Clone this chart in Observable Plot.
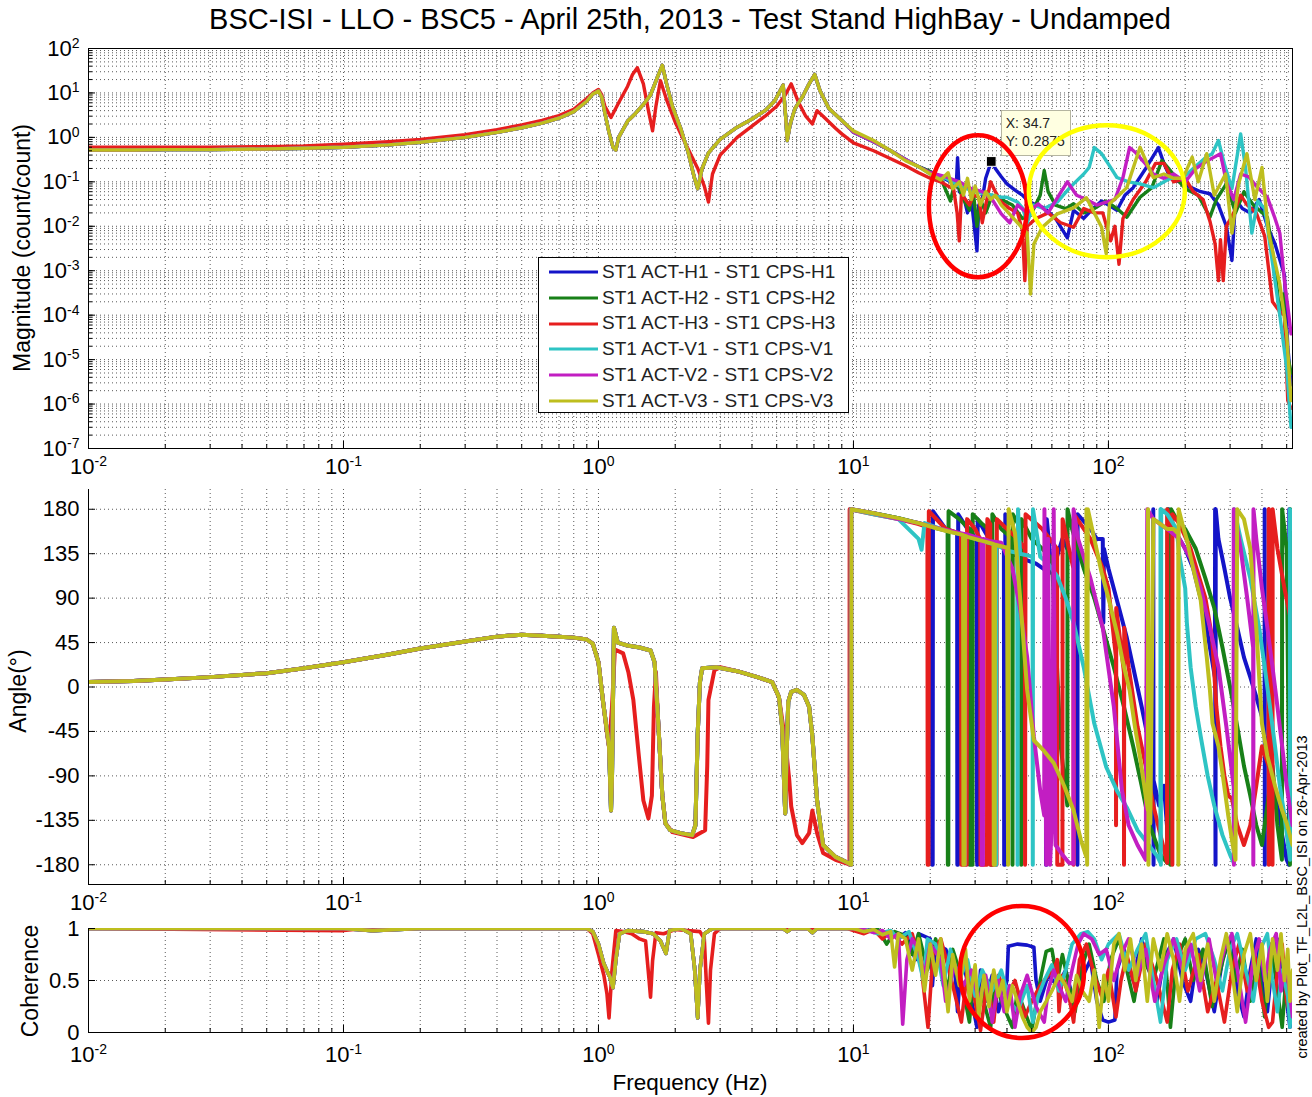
<!DOCTYPE html>
<html>
<head>
<meta charset="utf-8">
<script src="https://cdn.jsdelivr.net/npm/d3@7"></script>
<script src="https://cdn.jsdelivr.net/npm/@observablehq/plot@0.6"></script>
<style>
  body { margin: 0; background: #fff; font-family: "Liberation Sans", Arial, Helvetica, sans-serif; }
  #root { position: relative; width: 1312px; height: 1097px; overflow: hidden; background: #fff; }
  .abs { position: absolute; }
  .panel svg { display: block; }
  .title { font-size: 29px; color: #000; white-space: nowrap; transform: translate(-50%, -50%); }
  .ylab { font-size: 23px; color: #000; white-space: nowrap; transform: translate(-50%, -50%) rotate(-90deg); }
  .xlab { font-size: 22.5px; color: #000; white-space: nowrap; transform: translate(-50%, -50%); }
  .side { font-size: 14.5px; color: #000; white-space: nowrap; transform: translate(-50%, -50%) rotate(-90deg); }
  .legend { background: #fff; border: 1px solid #000; box-sizing: border-box; padding-top: 1px; }
  .legend .row { position: relative; height: 25.8px; }
  .legend svg { position: absolute; left: 9px; top: 0; }
  .legend span { position: absolute; left: 63px; top: 50%; transform: translateY(-50%); font-size: 19px; color: #222; white-space: nowrap; }
  .tip { background: #ffffe1; border: 1px solid #b5b5a0; box-sizing: border-box; font-size: 14px; line-height: 18px; padding: 3px 4px; color: #222; white-space: nowrap; overflow: hidden; }
</style>
</head>
<body>
<div id="root"></div>
<script>
// ---------------- DATA ----------------
const titleText = "BSC-ISI - LLO - BSC5 - April 25th, 2013 - Test Stand HighBay - Undamped";
const seriesNames = [
  "ST1 ACT-H1 - ST1 CPS-H1", "ST1 ACT-H2 - ST1 CPS-H2", "ST1 ACT-H3 - ST1 CPS-H3",
  "ST1 ACT-V1 - ST1 CPS-V1", "ST1 ACT-V2 - ST1 CPS-V2", "ST1 ACT-V3 - ST1 CPS-V3"
];
const seriesColors = ["#1414c8", "#188018", "#e61e1e", "#2ec4c4", "#c21ec2", "#bebe1e"];

const xDecades = [0.01, 0.1, 1, 10, 100];
const magDecades = [1e-7, 1e-6, 1e-5, 1e-4, 1e-3, 1e-2, 1e-1, 1, 10, 100];
const angleTicks = [-180, -135, -90, -45, 0, 45, 90, 135, 180];
const cohTicks = [0, 0.5, 1];

// Magnitude (count/count): [frequency Hz, magnitude]
const magLowHV = [[0.01,0.52],[0.015,0.52],[0.02,0.53],[0.03,0.53],[0.05,0.55],[0.07,0.57],[0.1,0.6],[0.15,0.68],[0.2,0.78],[0.3,1.0],[0.4,1.3],[0.5,1.65],[0.6,2.1],[0.7,2.7],[0.8,3.8],[0.9,6.5],[0.95,9.5],[1.0,11],[1.03,8],[1.06,3.5],[1.1,1.3],[1.14,0.6],[1.17,0.52],[1.2,1.0],[1.3,2.3],[1.4,3.5],[1.5,5.5],[1.6,9],[1.7,22],[1.78,42],[1.85,16],[1.95,5],[2.1,1.6],[2.25,0.45],[2.38,0.12],[2.45,0.07],[2.55,0.2],[2.7,0.45],[3.0,0.9],[3.5,1.7],[4.0,2.6],[4.5,4],[4.9,6.5],[5.15,11],[5.3,15],[5.42,3],[5.5,0.85],[5.65,2],[5.9,4.5],[6.3,8],[6.7,16],[7.05,26],[7.4,11],[8.0,4.5],[9.0,2.4]];
const magLowH3 = [[0.01,0.6],[0.02,0.6],[0.03,0.6],[0.05,0.62],[0.07,0.64],[0.1,0.7],[0.15,0.8],[0.2,0.9],[0.3,1.15],[0.4,1.5],[0.5,1.9],[0.6,2.4],[0.7,3.1],[0.8,4.3],[0.9,7.5],[0.95,10],[1.0,12],[1.03,9],[1.06,5],[1.12,2.8],[1.2,6],[1.3,14],[1.36,26],[1.42,37],[1.5,16],[1.57,4],[1.63,1.4],[1.68,5],[1.75,19],[1.85,7],[2.0,2.2],[2.2,0.7],[2.45,0.2],[2.6,0.08],[2.7,0.035],[2.8,0.15],[3.0,0.4],[3.5,1.0],[4.0,1.8],[4.5,3],[5.0,5],[5.4,9],[5.7,16],[6.1,6],[6.5,3],[6.9,2],[7.2,4],[7.6,3],[8.5,1.6],[9.0,1.2]];
const magHiH1 = [[10,1.3],[12,0.8],[14,0.5],[16,0.32],[18,0.22],[20,0.17],[22,0.13],[24,0.1],[25.3,0.08],[25.6,0.35],[26,0.06],[27,0.05],[28,0.02],[29,0.04],[30.5,0.0028],[31,0.03],[32,0.04],[33,0.12],[34.7,0.2875],[36,0.2],[38,0.13],[40,0.09],[43,0.065],[46,0.05],[48.5,0.037],[52,0.03],[56,0.026],[62,0.015],[69,0.0055],[73,0.023],[80,0.015],[87,0.025],[94,0.037],[100,0.03],[108,0.023],[116,0.05],[125,0.074],[140,0.2],[157,0.59],[165,0.26],[175,0.12],[190,0.1],[205,0.08],[230,0.06],[250,0.054],[270,0.03],[290,0.01],[305,0.0017],[315,0.04],[335,0.025],[360,0.02],[390,0.04],[420,0.01],[450,0.004],[490,0.0008],[505,2e-5],[520,2.7e-6]];
const magHiH2 = [[10,1.3],[12,0.8],[14,0.5],[16,0.32],[18,0.22],[20,0.17],[22,0.12],[24,0.037],[25,0.1],[26,0.07],[27,0.04],[28.5,0.023],[29.5,0.06],[30.5,0.01],[31.5,0.04],[33,0.02],[35,0.05],[38,0.04],[42,0.03],[46,0.015],[50,0.02],[54,0.05],[56,0.18],[58,0.06],[62,0.03],[68,0.025],[73,0.032],[80,0.02],[88,0.025],[98,0.037],[108,0.025],[118,0.016],[133,0.045],[148,0.074],[162,0.3],[172,0.2],[185,0.12],[200,0.07],[225,0.05],[250,0.016],[265,0.04],[290,0.09],[315,0.02],[340,0.06],[370,0.03],[420,0.016],[450,0.0011],[470,0.0001],[485,0.0003],[500,1.6e-5],[520,5e-6]];
const magHiH3 = [[10,0.75],[12,0.5],[14,0.33],[16,0.23],[18,0.16],[20,0.12],[22,0.1],[23.5,0.08],[24.7,0.07],[25.5,0.02],[26,0.0047],[26.5,0.05],[27.5,0.04],[28.5,0.03],[29.5,0.05],[31,0.045],[32,0.012],[33,0.03],[34.5,0.1],[36,0.06],[38,0.035],[41,0.025],[44,0.02],[46,0.008],[47,0.0006],[48,0.01],[52,0.015],[58,0.02],[65,0.012],[73,0.0095],[80,0.025],[88,0.02],[95,0.02],[102,0.0047],[106,0.01],[110,0.0014],[114,0.015],[125,0.04],[140,0.1],[153,0.26],[165,0.26],[180,0.1],[200,0.12],[215,0.06],[235,0.04],[250,0.013],[262,0.004],[270,0.0006],[275,0.005],[282,0.0006],[290,0.01],[310,0.02],[330,0.05],[350,0.03],[380,0.02],[410,0.006],[440,0.0002],[470,0.00012],[490,0.0001],[505,1.2e-6],[520,8e-7]];
const magHiV1 = [[10,1.3],[12,0.8],[14,0.5],[16,0.32],[18,0.22],[20,0.15],[23,0.12],[26,0.08],[30,0.06],[35,0.05],[38,0.045],[40,0.045],[44,0.035],[46,0.026],[48,0.012],[51,0.03],[56,0.025],[63,0.035],[70,0.07],[73,0.09],[80,0.15],[84,0.21],[88,0.59],[94,0.43],[100,0.25],[108,0.125],[120,0.1],[133,0.09],[150,0.074],[175,0.12],[195,0.12],[215,0.2],[240,0.35],[255,0.43],[270,0.85],[285,0.25],[305,0.07],[330,1.2],[345,0.2],[365,0.007],[385,0.037],[410,0.025],[440,0.0015],[470,0.0001],[500,6.5e-6],[520,3e-7]];
const magHiV2 = [[10,1.3],[12,0.8],[14,0.5],[16,0.32],[18,0.22],[20,0.16],[23,0.13],[26,0.1],[29,0.07],[32,0.06],[35,0.04],[38,0.019],[41,0.012],[44,0.03],[48,0.02],[53,0.032],[58,0.02],[64,0.05],[69,0.1],[75,0.05],[82,0.04],[90,0.03],[98,0.035],[106,0.04],[114,0.125],[121,0.59],[128,0.45],[140,0.25],[150,0.15],[165,0.12],[180,0.15],[200,0.1],[220,0.2],[245,0.3],[275,0.43],[290,0.1],[310,0.04],[330,0.15],[355,0.13],[380,0.08],[420,0.045],[450,0.015],[470,0.007],[490,0.0006],[510,0.0001],[520,3.8e-5]];
const magHiV3 = [[10,1.4],[12,0.85],[14,0.5],[16,0.3],[18,0.22],[20,0.15],[22,0.11],[23.5,0.16],[24.5,0.07],[26,0.1],[27,0.05],[28,0.12],[29,0.04],[30,0.08],[31.5,0.03],[33,0.06],[34.5,0.04],[36,0.05],[38,0.03],[40,0.022],[44,0.012],[48,0.007],[49.5,0.0003],[51,0.004],[55,0.0095],[63,0.019],[73,0.026],[82,0.044],[88,0.02],[94,0.0095],[98,0.0024],[101,0.032],[110,0.05],[118,0.074],[133,0.6],[142,0.25],[150,0.125],[165,0.15],[180,0.12],[196,0.12],[213,0.36],[225,0.1],[243,0.43],[260,0.05],[288,0.15],[305,0.007],[324,0.09],[349,0.43],[375,0.04],[400,0.21],[425,0.007],[470,0.0005],[500,3.8e-5],[520,1.2e-6]];

// Angle (degrees): [frequency Hz, angle]
const angLowHV = [[0.01,5],[0.015,6],[0.02,7.5],[0.03,10],[0.05,14],[0.07,19],[0.1,25],[0.15,33],[0.2,39],[0.3,46],[0.4,51],[0.5,53],[0.6,52],[0.7,51],[0.8,50],[0.9,48],[0.95,44],[1.0,25],[1.04,-13],[1.08,-45],[1.1,-60],[1.12,-125],[1.13,-90],[1.15,60],[1.19,45],[1.3,42],[1.45,40],[1.6,37],[1.66,25],[1.71,-30],[1.78,-110],[1.83,-138],[1.91,-145],[2.1,-148],[2.33,-150],[2.4,-140],[2.45,-47],[2.5,5],[2.55,19],[2.9,20],[3.5,16],[4.2,10],[4.8,5],[5.1,-10],[5.25,-40],[5.35,-100],[5.4,-128],[5.45,-80],[5.55,-15],[5.7,-5],[6.0,-3],[6.4,-8],[6.7,-20],[6.9,-50],[7.2,-115],[7.6,-160],[8.5,-172],[9.5,-178]];
const angLowH3 = [[0.01,5],[0.015,6],[0.02,7.5],[0.03,10],[0.05,14],[0.07,19],[0.1,25],[0.15,33],[0.2,39],[0.3,46],[0.4,51],[0.5,53],[0.6,52],[0.7,51],[0.8,50],[0.9,48],[0.95,44],[1.0,25],[1.04,-13],[1.08,-47],[1.1,-61],[1.13,-20],[1.16,38],[1.25,34],[1.31,15],[1.37,-13],[1.44,-70],[1.5,-115],[1.57,-133],[1.62,-110],[1.65,-20],[1.68,15],[1.71,-30],[1.78,-110],[1.83,-138],[1.95,-147],[2.35,-152],[2.62,-145],[2.67,-80],[2.7,-13],[2.85,17],[3.0,20],[3.5,16],[4.2,10],[4.8,5],[5.1,-10],[5.3,-40],[5.45,-64],[5.6,-94],[5.7,-121],[6.0,-150],[6.3,-158],[6.7,-148],[6.9,-125],[7.2,-148],[7.6,-168],[8.5,-175],[9.5,-179]];
const angHiH1 = [[9.8,-180],[9.81,180],[12,176],[15,171],[18,166],[20.3,163],[20.35,-180],[20.45,-180],[20.5,178],[23,160],[25.5,156],[25.55,-180],[25.7,-180],[25.75,175],[28,160],[30.4,150],[30.5,-175],[30.6,-180],[30.7,170],[34,150],[38,142],[38.9,140],[39,-180],[39.3,-180],[39.4,175],[42,135],[46,130],[52,125],[56.8,118],[56.9,-180],[57.2,-180],[57.3,170],[60,115],[66,150],[72,130],[75.4,120],[75.5,-170],[75.6,-180],[75.7,175],[85,160],[90,150],[95,150],[95.5,65],[96,140],[100,120],[110,80],[118,50],[125,20],[135,-20],[145,-60],[149.8,-90],[149.9,180],[150.3,-180],[150.4,-95],[152,-100],[158,-120],[165,-100],[172,-160],[172.5,180],[180,160],[190,150],[200,140],[215,120],[235,80],[250,40],[261.5,10],[262,180],[262.5,-100],[263,-180],[263.5,180],[270,150],[285,120],[300,90],[320,60],[340,30],[360,10],[380,-10],[400,-30],[409.8,-45],[409.9,180],[410.5,-180],[410.6,-50],[420,-60],[440,-90],[460,-120],[480,-150],[500,-175],[510,-180],[512,180],[527,170]];
const angHiH2 = [[9.7,-180],[9.71,180],[12,176],[15,171],[18,166],[21,161],[23.4,158],[23.45,-180],[23.55,-180],[23.6,178],[26,170],[28.5,160],[28.55,-180],[29.3,-180],[29.35,175],[32,165],[34.5,158],[34.55,-180],[35,-180],[35.05,175],[38,160],[42,150],[42.05,-180],[42.15,175],[45.4,160],[45.5,-180],[45.6,170],[50,150],[55,140],[60,130],[65,-60],[69,-120],[69.1,180],[72,160],[80,120],[88,90],[95,60],[105,20],[115,-20],[125,-60],[135,-100],[145,-140],[160,-170],[170,-178],[170.5,180],[172,160],[175,-180],[176,180],[185,170],[200,160],[220,140],[240,110],[260,80],[280,40],[300,0],[320,-40],[340,-80],[360,-110],[380,-140],[400,-160],[420,-120],[440,-80],[460,-140],[479,-175],[480,180],[500,140],[515,-180],[516,180],[527,170]];
const angHiH3 = [[9.65,-180],[9.66,180],[12,175],[15,170],[18,165],[19.5,162],[19.55,-180],[19.7,-180],[19.75,178],[23,160],[26.4,155],[26.5,-180],[27.8,-180],[27.9,170],[30,160],[31.4,150],[31.5,-180],[33.4,-180],[33.5,170],[34.4,165],[34.5,-180],[36.4,-180],[36.5,170],[40,160],[44,150],[47,140],[47.1,-180],[47.3,175],[55,160],[62.9,140],[63,-180],[66,-180],[66.1,170],[70,140],[72.9,120],[73,-180],[73.2,175],[85,150],[95,120],[100,100],[104,60],[107,30],[107.1,-140],[107.3,80],[112,40],[115,15],[115.1,-180],[115.3,60],[120,20],[130,-40],[140,-80],[150,-120],[160,-150],[169.9,-178],[170,180],[178,160],[178.1,-180],[178.3,175],[190,165],[210,140],[240,90],[255,50],[265,-20],[275,-60],[285,-90],[295,-110],[305,-113],[320,-140],[340,-160],[360,-140],[380,-100],[400,-60],[424.9,-80],[425,180],[425.5,-180],[426,180],[432,120],[439.9,60],[440,-180],[440.5,180],[460,140],[490,100],[527,60]];
const angHiV1 = [[9.75,-180],[9.76,180],[12,175],[15,170],[18,150],[18.5,139],[19,166],[22,160],[26,155],[30,150],[35,145],[35.9,144],[36,-180],[36.3,-180],[36.4,144],[40,138],[43.9,136],[44,-180],[44.2,180],[45,135],[50.4,132],[50.5,-180],[50.6,180],[54,132],[58,125],[63,112],[68,90],[73,65],[80,20],[88,-37],[98,-81],[108,-105],[118,-122],[130,-145],[142,-158],[156,-172],[159.9,-178],[160,180],[160.5,-180],[161,180],[170,175],[185,160],[190,132],[200,100],[203,65],[210,20],[220,-20],[230,-50],[245,-90],[260,-120],[280,-150],[300,-170],[310,-178],[311,180],[330,150],[360,110],[390,60],[410,20],[430,-20],[450,-60],[470,-100],[490,-130],[514.9,-175],[515,180],[527,160]];
const angHiV2 = [[9.78,-180],[9.79,180],[12,176],[15,170],[18,166],[22,160],[26,156],[27.1,155],[27.2,-180],[27.4,-180],[27.5,155],[30,152],[31.8,150],[31.85,-180],[32.2,-180],[32.25,150],[34,148],[38,146],[42,120],[45,80],[48,30],[51,-50],[54,-105],[56,-130],[56.1,180],[57,-180],[58,150],[59,-180],[60,-138],[61,180],[62,-160],[66,-170],[70,-178],[72.9,-179],[73,180],[76,150],[85,110],[95,60],[105,-20],[113,-105],[120,-140],[130,-160],[140,-175],[142,180],[150,170],[170,160],[190,150],[210,130],[230,100],[250,60],[270,20],[290,-40],[309.5,-100],[310,180],[310.5,-180],[311,180],[330,140],[350,90],[369.5,40],[370,-180],[370.5,180],[380,150],[400,100],[420,60],[440,20],[460,-20],[480,-60],[500,-100],[527,-140]];
const angHiV3 = [[9.8,-180],[9.82,180],[12,176],[15,171],[18,166],[21,161],[24,157],[26.9,154],[27,-180],[27.3,-180],[27.4,153],[28,152],[32,148],[35.4,145],[35.5,-180],[35.8,-180],[35.9,144],[36,144],[40,141],[40.4,-180],[40.6,180],[43,156],[46,60],[48,-3],[51,-54],[56,-65],[61,-77],[67,-100],[73,-125],[78,-155],[81.9,-172],[82,180],[82.5,-180],[83,180],[88,150],[94,116],[100,90],[108,55],[114,25],[121,-3],[127,-40],[133,-71],[140,-110],[142.9,-125],[143,180],[143.5,-180],[144,-138],[146,-138],[150,170],[160,165],[170,160],[180,160],[187.9,155],[188,-180],[188.5,180],[195,165],[203,149],[215,120],[230,88],[243,30],[250,-3],[256,-37],[270,-60],[280,-87],[295,-130],[305,-155],[315,-175],[320,180],[340,170],[360,140],[380,60],[400,-37],[420,-70],[450,-100],[480,-125],[500,-138],[527,-160]];

// Coherence: [frequency Hz, coherence]
const cohLowHV = [[0.01,1],[0.1,1],[0.13,0.98],[0.2,1],[0.9,1],[0.95,0.97],[1.0,0.85],[1.05,0.66],[1.11,0.53],[1.14,0.43],[1.17,0.7],[1.21,0.95],[1.3,0.98],[1.5,0.97],[1.64,0.95],[1.75,0.88],[1.84,0.76],[1.9,0.98],[2.1,1],[2.3,0.95],[2.38,0.63],[2.45,0.14],[2.5,0.6],[2.6,0.95],[2.8,1],[5.3,1],[5.5,0.97],[5.7,1],[6.6,1],[6.9,0.96],[7.2,1],[9.5,1]];
const cohLowH3 = [[0.01,1],[0.1,0.98],[0.12,1],[0.9,1],[0.95,0.95],[1.0,0.75],[1.05,0.55],[1.08,0.37],[1.1,0.14],[1.13,0.6],[1.17,0.98],[1.25,0.97],[1.35,0.95],[1.45,0.9],[1.53,0.88],[1.58,0.5],[1.6,0.34],[1.63,0.69],[1.68,0.96],[1.8,0.95],[2.0,0.99],[2.5,0.97],[2.6,0.9],[2.65,0.47],[2.7,0.09],[2.75,0.6],[2.85,0.95],[3.0,1],[9.5,1]];
const cohHiH1 = [[10,1],[11,0.98],[12,0.99],[13,0.95],[14,0.97],[15,0.9],[16,0.96],[17.5,0.7],[18,0.95],[20,0.9],[20.4,0.45],[21,0.85],[23,0.8],[25,0.6],[25.6,0.2],[26.5,0.7],[28,0.5],[30.5,0.05],[31.5,0.6],[33,0.3],[35,0.55],[37,0.2],[39,0.4],[40,0.5],[40.5,0.83],[44,0.85],[48,0.84],[51,0.82],[52,0.5],[54,0.3],[58,0.55],[63,0.45],[68,0.6],[73,0.3],[78,0.5],[85,0.7],[90,0.3],[95,0.12],[100,0.1],[106,0.12],[108,0.6],[115,0.8],[125,0.5],[135,0.9],[145,0.6],[155,0.3],[165,0.7],[180,0.9],[195,0.5],[210,0.3],[225,0.8],[240,0.6],[260,0.2],[280,0.7],[300,0.9],[320,0.4],[340,0.15],[360,0.6],[380,0.9],[400,0.5],[420,0.2],[440,0.7],[460,0.9],[480,0.5],[500,0.3],[515,0.05],[527,0.3]];
const cohHiH2 = [[10,1],[11,0.97],[12.5,0.99],[13.5,0.85],[14.5,0.97],[16,0.93],[17,0.75],[18,0.95],[19.5,0.6],[21,0.9],[23.5,0.4],[24.5,0.8],[26,0.6],[28.5,0.1],[29.5,0.55],[32,0.35],[34.5,0.05],[36,0.5],[38,0.3],[42,0.05],[44,0.4],[47,0.2],[50,0.02],[54,0.5],[57,0.78],[60,0.8],[63,0.5],[66,0.75],[70,0.45],[74,0.2],[78,0.6],[84,0.85],[90,0.5],[96,0.3],[102,0.7],[110,0.9],[118,0.6],[126,0.3],[135,0.75],[150,0.5],[165,0.9],[175,0.05],[185,0.7],[200,0.9],[215,0.5],[235,0.8],[255,0.25],[275,0.6],[295,0.9],[315,0.5],[335,0.8],[360,0.3],[385,0.7],[410,0.15],[430,0.85],[455,0.5],[480,0.05],[500,0.6],[527,0.4]];
const cohHiH3 = [[10,0.98],[11,0.95],[12,0.99],[13,0.9],[14,0.97],[15.5,0.85],[17,0.95],[18.5,0.6],[19.6,0.05],[20.5,0.75],[22,0.9],[24,0.55],[26.5,0.1],[28,0.6],[30,0.3],[31.5,0.02],[33.5,0.5],[35.5,0.1],[37,0.55],[40,0.35],[43,0.5],[47,0.15],[50,0.3],[54,0.45],[58,0.55],[61,0.6],[63,0.7],[64,0.2],[66,0.55],[70,0.35],[73,0.1],[77,0.7],[82,0.85],[88,0.55],[94,0.35],[100,0.6],[107,0.15],[112,0.5],[118,0.75],[128,0.4],[140,0.85],[155,0.5],[170,0.1],[178,0.6],[190,0.85],[205,0.4],[225,0.75],[245,0.2],[265,0.5],[285,0.1],[305,0.6],[325,0.85],[350,0.4],[375,0.75],[400,0.3],[425,0.05],[440,0.1],[460,0.6],[480,0.85],[500,0.3],[527,0.1]];
const cohHiV1 = [[10,1],[11.5,0.98],[12.5,0.95],[14,0.98],[15,0.9],[16.5,0.97],[18,0.7],[18.8,0.5],[19.5,0.9],[21,0.85],[22.5,0.45],[24,0.8],[26,0.5],[28,0.7],[30,0.35],[32,0.6],[35,0.4],[38,0.6],[41,0.3],[44,0.2],[48,0.45],[50.5,0.1],[53,0.35],[56,0.5],[60,0.65],[64,0.4],[68,0.6],[72,0.85],[78,0.95],[83,0.97],[88,0.9],[94,0.7],[100,0.85],[110,0.95],[120,0.6],[130,0.8],[140,0.95],[150,0.5],[160,0.1],[170,0.7],[185,0.9],[200,0.6],[220,0.9],[240,0.95],[260,0.7],[280,0.4],[300,0.8],[320,0.95],[345,0.6],[370,0.3],[395,0.8],[420,0.95],[440,0.5],[460,0.2],[480,0.6],[505,0.35],[515,0.05],[527,0.4]];
const cohHiV2 = [[10,1],[11,0.99],[12,0.96],[13,0.98],[14,0.9],[15,0.95],[15.6,0.08],[16.2,0.7],[17,0.9],[18,0.8],[19,0.55],[20,0.85],[22,0.7],[23,0.3],[25,0.65],[27,0.45],[29,0.6],[31,0.3],[33,0.55],[35,0.1],[37,0.5],[39,0.2],[41,0.45],[43,0.05],[45,0.35],[48,0.55],[52,0.25],[56,0.1],[58,0.4],[61,0.6],[64,0.45],[68,0.3],[72,0.6],[76,0.85],[80,0.95],[86,0.9],[92,0.75],[98,0.8],[105,0.5],[112,0.75],[120,0.9],[130,0.55],[140,0.8],[152,0.3],[165,0.65],[180,0.9],[195,0.6],[210,0.85],[228,0.4],[248,0.9],[265,0.5],[285,0.8],[305,0.95],[325,0.5],[345,0.1],[370,0.7],[390,0.9],[410,0.5],[430,0.8],[455,0.95],[475,0.4],[495,0.7],[510,0.45],[527,0.15]];
const cohHiV3 = [[10,1],[11,0.97],[12,0.99],[13,0.94],[14,0.97],[14.5,0.63],[15,0.95],[16,0.9],[17,0.6],[18,0.9],[19,0.4],[20,0.85],[21,0.55],[22,0.9],[23.5,0.2],[24.5,0.75],[26,0.45],[27.5,0.8],[28.5,0.3],[30,0.65],[31,0.15],[32.5,0.55],[34,0.25],[35.5,0.6],[37,0.35],[38.5,0.5],[40,0.2],[42,0.45],[44,0.3],[46,0.15],[48,0.05],[50,0.0],[52,0.05],[54,0.2],[57,0.3],[60,0.4],[64,0.55],[68,0.45],[72,0.3],[75,0.55],[79,0.4],[84,0.3],[88,0.6],[92,0.05],[96,0.55],[100,0.3],[105,0.85],[110,0.95],[116,0.6],[122,0.9],[128,0.5],[135,0.85],[142,0.3],[150,0.9],[160,0.6],[170,0.95],[180,0.7],[190,0.3],[200,0.8],[215,0.95],[230,0.5],[245,0.85],[260,0.3],[275,0.7],[290,0.95],[305,0.6],[320,0.2],[340,0.75],[360,0.95],[380,0.5],[400,0.85],[420,0.3],[440,0.9],[460,0.6],[475,0.95],[490,0.5],[505,0.8],[515,0.3],[527,0.6]];

// Data tip shown on the magnitude plot
const dataTip = { f: 34.7, v: 0.2875, label: ["X: 34.7", "Y: 0.2875"] };
// Hand-drawn highlight ellipses (centre in data units, radii in px)
const magEllipses = [
  { f: 30.9, v: 0.0276, rx: 49, ry: 71, color: "#ff0000" },
  { f: 99, v: 0.06, rx: 78, ry: 66, color: "#ffff00" }
];
const cohEllipses = [{ f: 46, v: 0.577, rx: 62, ry: 66, color: "#ff0000" }];
const sideNote = "created by Plot_TF_L2L_BSC_ISI on 26-Apr-2013";

// ---------------- BUILD ----------------
const FONT = '"Liberation Sans", Arial, Helvetica, sans-serif';
const X_DOMAIN = [0.01, 527];
const lowMag = [magLowHV, magLowHV, magLowH3, magLowHV, magLowHV, magLowHV];
const hiMag = [magHiH1, magHiH2, magHiH3, magHiV1, magHiV2, magHiV3];
const lowAng = [angLowHV, angLowHV, angLowH3, angLowHV, angLowHV, angLowHV];
const hiAng = [angHiH1, angHiH2, angHiH3, angHiV1, angHiV2, angHiV3];
const lowCoh = [cohLowHV, cohLowHV, cohLowH3, cohLowHV, cohLowHV, cohLowHV];
const hiCoh = [cohHiH1, cohHiH2, cohHiH3, cohHiV1, cohHiV2, cohHiV3];

function rows(lows, his) {
  const out = [];
  seriesNames.forEach((s, i) => {
    lows[i].concat(his[i]).forEach(([f, v]) => out.push({ f, v, s }));
  });
  return out;
}
const magRows = rows(lowMag, hiMag);
const angRows = rows(lowAng, hiAng);
const cohRows = rows(lowCoh, hiCoh);

const xMinor = xDecades.flatMap(d => d3.range(1, 10).map(k => +(k * d).toPrecision(3))).filter(v => v <= X_DOMAIN[1]);
const magMinor = magDecades.slice(0, -1).flatMap(d => d3.range(1, 10).map(k => +(k * d).toPrecision(3))).concat([100]);

const gridStyle = { stroke: "#000", strokeOpacity: 0.65, strokeDasharray: "1,3", strokeWidth: 1 };
const expFmt = d => "10^" + Math.round(Math.log10(d));
const color = { domain: seriesNames, range: seriesColors };
const baseStyle = { background: "transparent", fontFamily: FONT, fontSize: "22px", color: "#000", overflow: "visible" };

const root = document.getElementById("root");
function place(el, left, top, cls) {
  const d = document.createElement("div");
  d.className = "abs " + (cls || "");
  d.style.left = left + "px"; d.style.top = top + "px";
  if (typeof el === "string") d.textContent = el; else d.appendChild(el);
  root.appendChild(d);
  return d;
}

function xAxes(pad) {
  return [
    Plot.axisX({ ticks: xMinor, tickSize: -4, tickFormat: () => "", label: null }),
    Plot.axisX({ ticks: xDecades, tickSize: -7, tickPadding: pad, tickFormat: expFmt, label: null, fontSize: 22 })
  ];
}

// Magnitude
const magPlot = Plot.plot({
  width: 1312, height: 480, marginLeft: 88, marginRight: 20, marginTop: 48, marginBottom: 32,
  style: baseStyle,
  x: { type: "log", domain: X_DOMAIN },
  y: { type: "log", domain: [1e-7, 100] },
  color,
  marks: [
    Plot.ruleX(xMinor, gridStyle),
    Plot.ruleY(magMinor, gridStyle),
    Plot.line(magRows, { x: "f", y: "v", z: "s", stroke: "s", strokeWidth: 3.4, clip: true }),
    Plot.dot([dataTip], { x: "f", y: "v", symbol: "square", r: 5.5, fill: "#000", stroke: "#fff", strokeWidth: 1 }),
    Plot.frame({ stroke: "#000" }),
    ...xAxes(17),
    Plot.axisY({ ticks: magMinor, tickSize: -4, tickFormat: () => "", label: null }),
    Plot.axisY({ ticks: magDecades, tickSize: -7, tickPadding: 16, tickFormat: expFmt, label: null, fontSize: 22 })
  ]
});

// Angle
const angPlot = Plot.plot({
  width: 1312, height: 440, marginLeft: 88, marginRight: 20, marginTop: 9, marginBottom: 36,
  style: baseStyle,
  x: { type: "log", domain: X_DOMAIN },
  y: { domain: [-200, 200] },
  color,
  marks: [
    Plot.ruleX(xMinor, gridStyle),
    Plot.ruleY(angleTicks, gridStyle),
    Plot.line(angRows, { x: "f", y: "v", z: "s", stroke: "s", strokeWidth: 4, clip: true }),
    Plot.ruleX([X_DOMAIN[0]], { stroke: "#000" }),
    Plot.ruleY([-200], { stroke: "#000" }),
    ...xAxes(17),
    Plot.axisY({ ticks: angleTicks, tickSize: -7, tickPadding: 16, tickFormat: d => String(d), label: null, fontSize: 22 })
  ]
});

// Coherence
const cohPlot = Plot.plot({
  width: 1312, height: 152, marginLeft: 88, marginRight: 20, marginTop: 8, marginBottom: 40,
  style: baseStyle,
  x: { type: "log", domain: X_DOMAIN },
  y: { domain: [0, 1] },
  color,
  marks: [
    Plot.ruleX(xMinor, gridStyle),
    Plot.ruleY(cohTicks, gridStyle),
    Plot.line(cohRows, { x: "f", y: "v", z: "s", stroke: "s", strokeWidth: 3.6, clip: true }),
    Plot.ruleX([X_DOMAIN[0]], { stroke: "#000" }),
    Plot.ruleY([0], { stroke: "#000" }),
    ...xAxes(21),
    Plot.axisY({ ticks: cohTicks, tickSize: -7, tickPadding: 16, tickFormat: d => String(d), label: null, fontSize: 22 })
  ]
});

// Superscript exponents in tick labels
const NS = "http://www.w3.org/2000/svg";
function supTicks(svg) {
  svg.querySelectorAll("text").forEach(t => {
    const m = /^10\^(-?\d+)$/.exec(t.textContent);
    if (!m) return;
    t.textContent = "";
    const a = document.createElementNS(NS, "tspan"); a.textContent = "10";
    const b = document.createElementNS(NS, "tspan"); b.textContent = m[1];
    b.setAttribute("dy", "-0.55em"); b.setAttribute("font-size", "14px");
    t.append(a, b);
  });
}
[magPlot, angPlot, cohPlot].forEach(supTicks);

const MAG_TOP = 0, ANG_TOP = 480, COH_TOP = 920;
place(magPlot, 0, MAG_TOP, "panel");
place(angPlot, 0, ANG_TOP, "panel");
place(cohPlot, 0, COH_TOP, "panel");

// Title and axis labels
place(titleText, 690, 19, "title");
place("Magnitude (count/count)", 22, 248, "ylab");
place("Angle(°)", 18, 691, "ylab");
place("Coherence", 30, 981, "ylab");
place("Frequency (Hz)", 690, 1083, "xlab");
place(sideNote, 1302, 897, "side");

// Legend
const leg = document.createElement("div");
leg.className = "legend";
leg.style.width = "311px"; leg.style.height = "156px";
seriesNames.forEach((s, i) => {
  const r = document.createElement("div"); r.className = "row";
  r.innerHTML = `<svg width="52" height="26"><line x1="1" x2="50" y1="12.9" y2="12.9" stroke="${seriesColors[i]}" stroke-width="3"/></svg><span>${s}</span>`;
  leg.appendChild(r);
});
place(leg, 538, 257);

// Scales for annotations
function toScale(desc, offset) {
  const s = (desc.type === "log" ? d3.scaleLog() : d3.scaleLinear()).domain(desc.domain).range(desc.range);
  return v => s(v) + (offset || 0);
}
const mx = toScale(magPlot.scale("x")), my = toScale(magPlot.scale("y"), MAG_TOP);
const cx = toScale(cohPlot.scale("x")), cy = toScale(cohPlot.scale("y"), COH_TOP);

// Data tip box
const tip = document.createElement("div");
tip.className = "tip";
tip.style.width = "70px"; tip.style.height = "46px";
tip.innerHTML = dataTip.label.join("<br>");
place(tip, mx(dataTip.f) + 10, my(dataTip.v) - 51);

// Highlight ellipses overlay
const ov = d3.create("svg").attr("width", 1312).attr("height", 1097)
  .style("position", "absolute").style("left", 0).style("top", 0).style("pointer-events", "none");
magEllipses.forEach(e => ov.append("ellipse").attr("cx", mx(e.f)).attr("cy", my(e.v)).attr("rx", e.rx).attr("ry", e.ry)
  .attr("fill", "none").attr("stroke", e.color).attr("stroke-width", 4.5));
cohEllipses.forEach(e => ov.append("ellipse").attr("cx", cx(e.f)).attr("cy", cy(e.v)).attr("rx", e.rx).attr("ry", e.ry)
  .attr("fill", "none").attr("stroke", e.color).attr("stroke-width", 4.5));
root.appendChild(ov.node());
</script>
</body>
</html>
